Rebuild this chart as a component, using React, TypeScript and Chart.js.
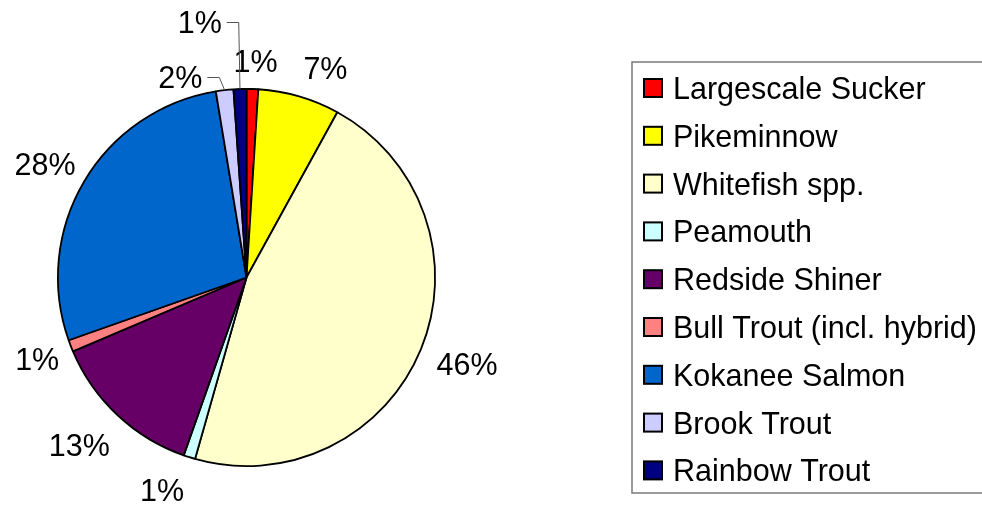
import React, { useEffect, useRef } from "react";
import { Chart, registerables } from "chart.js";

Chart.register(...registerables);

const categories = [
  "Largescale Sucker",
  "Pikeminnow",
  "Whitefish spp.",
  "Peamouth",
  "Redside Shiner",
  "Bull Trout (incl. hybrid)",
  "Kokanee Salmon",
  "Brook Trout",
  "Rainbow Trout",
];
const values = [1.0, 7.0, 46.4, 1.0, 13.2, 1.0, 27.8, 1.5, 1.1];
const colors = [
  "#FF0000",
  "#FFFF00",
  "#FFFFCC",
  "#CCFFFF",
  "#660066",
  "#FF8080",
  "#0066CC",
  "#CCCCFF",
  "#000080",
];

const FONT = '30.5px "Liberation Sans", Arial, Helvetica, sans-serif';

// label nudges (relative to radial placement) and leader-line flags
const labelNudge: [number, number][] = [
  [2, 2],
  [16, 0],
  [4, 3],
  [-16, 4],
  [-7, 8],
  [1, 2],
  [0, -2],
  [-40, 17],
  [-39, -37],
];
const labelLeader = [false, false, false, false, false, false, false, true, true];

const pieLabels = {
  id: "pieLabels",
  afterDraw(chart: any) {
    const ctx = chart.ctx as CanvasRenderingContext2D;
    const meta = chart.getDatasetMeta(0);
    const data = chart.data.datasets[0].data as number[];
    const total = data.reduce((a, b) => a + b, 0);
    ctx.save();
    ctx.font = FONT;
    ctx.fillStyle = "#000";
    ctx.textAlign = "center";
    ctx.textBaseline = "alphabetic";
    meta.data.forEach((arc: any, i: number) => {
      const p = arc.getProps(["x", "y", "startAngle", "endAngle", "outerRadius"], true);
      const mid = (p.startAngle + p.endAngle) / 2;
      const c = Math.cos(mid);
      const s = Math.sin(mid);
      const text = Math.round((data[i] / total) * 100) + "%";
      const w = ctx.measureText(text).width;
      const h = 30;
      const gap = 15;
      const cx = p.x + c * (p.outerRadius + gap) + (c * w) / 2 + labelNudge[i][0];
      const cy = p.y + s * (p.outerRadius + gap) + (s * h) / 2 + labelNudge[i][1];
      ctx.fillText(text, cx, cy + 11);
      if (labelLeader[i]) {
        const ax = p.x + c * p.outerRadius;
        const ay = p.y + s * p.outerRadius;
        const right = cx + w / 2;
        ctx.save();
        ctx.strokeStyle = "#555";
        ctx.lineWidth = 1;
        ctx.beginPath();
        ctx.moveTo(right + 5, Math.round(cy) + 0.5);
        ctx.lineTo(right + 17, Math.round(cy) + 0.5);
        ctx.lineTo(ax, ay);
        ctx.stroke();
        ctx.restore();
      }
    });
    ctx.restore();
  },
};

const boxLegend = {
  id: "boxLegend",
  afterDraw(chart: any) {
    const ctx = chart.ctx as CanvasRenderingContext2D;
    const labels = chart.data.labels as string[];
    const bg = chart.data.datasets[0].backgroundColor as string[];
    const left = 632;
    const top = 62;
    const width = 360;
    const height = 431;
    ctx.save();
    ctx.strokeStyle = "#7a7a7a";
    ctx.lineWidth = 1.5;
    ctx.strokeRect(left, top, width, height);
    ctx.font = FONT;
    ctx.textAlign = "left";
    ctx.textBaseline = "alphabetic";
    labels.forEach((lab, i) => {
      const cy = 88 + i * 47.8;
      ctx.fillStyle = bg[i];
      ctx.fillRect(644, cy - 9, 18, 18);
      ctx.strokeStyle = "#000";
      ctx.lineWidth = 2;
      ctx.strokeRect(644, cy - 9, 18, 18);
      ctx.fillStyle = "#000";
      ctx.fillText(lab, 673, cy + 11);
    });
    ctx.restore();
  },
};

export default function App() {
  const ref = useRef<HTMLCanvasElement>(null);
  useEffect(() => {
    if (!ref.current) return;
    const chart = new Chart(ref.current, {
      type: "pie",
      data: {
        labels: categories,
        datasets: [
          {
            data: values,
            backgroundColor: colors,
            borderColor: "#000",
            borderWidth: 1.8,
          },
        ],
      },
      options: {
        animation: false,
        responsive: false,
        layout: { padding: { left: 57, right: 546, top: 88, bottom: 39 } },
        plugins: {
          legend: { display: false },
          tooltip: { enabled: false },
          title: { display: false },
        },
      },
      plugins: [pieLabels, boxLegend],
    });
    return () => chart.destroy();
  }, []);
  return (
    <div style={{ position: "absolute", left: 0, top: 0, width: 982, height: 506, background: "#fff" }}>
      <canvas ref={ref} width={982} height={506} style={{ display: "block" }} />
    </div>
  );
}
